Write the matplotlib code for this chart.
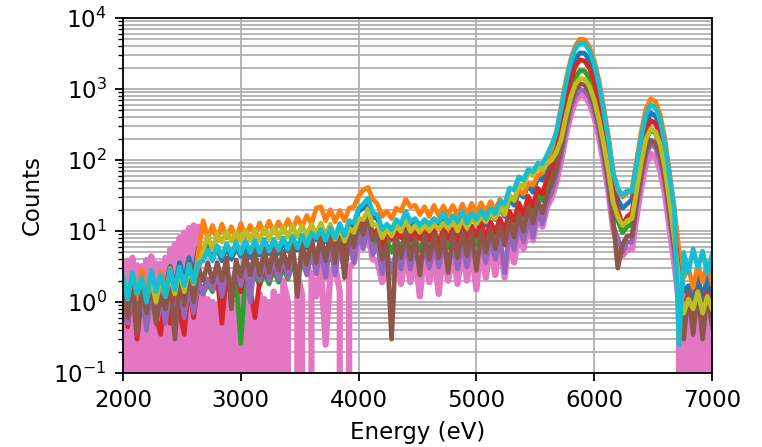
import numpy as np
import matplotlib
matplotlib.use("Agg")
import matplotlib.pyplot as plt

nan = np.nan

# channel energies (eV), 40 eV bins
energy = np.arange(2000, 7001, 40)

# counts per channel for each spectrum
pink_a = [3.6, 0, 4.2, 0, 3.2, 0, 4.4, 0, 3.5, 0,
          5.5, 0, 8.0, 0, 11.0, 0, 11.5, 0, 1.1, 0,
          0.9, 0, 1.2, 0, 1.0, 0, 1.3, 0, 0.9, 0,
          1.1, 0, 1.4, 0, 2.0, 1.0, 0, 2.4, 1.3, 0,
          2.6, 1.2, 3.2, 0.25, 2.4, 3.4, 1.4, 0, 3.0, 3.6,
          6.0, 6.5, 9.0, 4.0, 3.8, 1.9, 3.2, 2.2, 4.4, 1.8,
          5.2, 1.9, 4.6, 1.2, 6.0, 1.9, 4.8, 1.3, 5.6, 2.0,
          5.0, 1.8, 6.2, 2.0, 5.4, 1.5, 6.4, 2.2, 6.8, 2.4,
          7.0, 2.2, 8.0, 3.6, 9.0, 5.6, 11.5, 7.4, 16.0, 11.5,
          22, 30, 50, 100, 225, 430, 675, 835, 800, 630,
          410, 215, 92, 37, 11, 6.5, 4.5, 5.5, 5.5, 16,
          42, 88, 122, 112, 72, 34, 11, 3.5, 1.0, 0,
          1.5, 0, 1.3, 0, 1.6, 0]

pink_b = ([0, 3.8, 0, 3.3, 0, 3.9, 0, 3.5, 0, 4.2,
           0, 6.5, 0, 9.5, 0, 12.0, 0, 1.2, 0, 1.0,
           0, 1.1, 0, 0.9, 0, 1.2, 0, 1.0, 0, 1.3,
           0, 1.0, 0, 1.2, 0, 0, 0, 0]
          + [nan] * 81
          + [1.4, 0, 1.6, 0, 1.3, 0, 1.5])

blue = [1.8, 0.8, 2.0, 0.9, 1.7, 0.7, 2.1, 1.0, 1.9, 1.7,
        3.2, 1.6, 3.6, 2.0, 4.2, 2.5, 5.8, 5.2, 6.4, 4.4,
        5.6, 3.8, 6.0, 4.0, 5.8, 4.4, 6.2, 4.2, 6.4, 4.6,
        6.6, 4.8, 6.8, 4.8, 7.0, 5.2, 7.2, 5.4, 7.6, 5.8,
        10.0, 7.6, 11.0, 7.0, 11.0, 6.8, 11.5, 7.2, 12.5, 11.5,
        19.0, 21.0, 27.0, 15.5, 15.0, 8.8, 11.8, 9.0, 13.5, 11.0,
        17.0, 11.0, 13.5, 10.0, 13.0, 10.8, 13.5, 11.2, 14.0, 11.0,
        14.2, 10.0, 16.5, 12.0, 15.5, 12.5, 16.5, 12.0, 18.0, 14.5,
        21.0, 16.0, 28.0, 23.0, 36.0, 30.0, 45.0, 35.0, 56.0, 52.0,
        80, 110, 180, 380, 870, 1710, 2660, 3240, 3170, 2510,
        1620, 850, 362, 145, 48, 28, 21, 24, 28, 68,
        165, 340, 460, 420, 275, 128, 43, 14, 3.5, 1.4,
        1.7, 0.9, 2.3, 1.1, 2.2, 1.0]

orange = [2.2, 0.9, 2.6, 1.1, 2.9, 1.2, 2.3, 0.8, 2.7, 1.3,
          3.0, 1.1, 2.5, 1.4, 3.4, 1.6, 5.0, 14.0, 8.0, 12.0,
          7.5, 12.5, 8.0, 11.5, 7.6, 12.8, 8.4, 12.0, 8.8, 13.0,
          9.2, 13.8, 9.4, 13.5, 10.0, 14.5, 10.5, 15.5, 11.5, 16.5,
          12.5, 21.0, 22.0, 14.0, 20.0, 13.5, 19.5, 14.0, 21.0, 22.0,
          31.0, 38.0, 41.0, 28.0, 24.0, 16.0, 19.0, 15.0, 21.0, 19.0,
          28.0, 22.0, 23.0, 17.0, 22.0, 16.0, 23.0, 16.5, 22.5, 17.0,
          23.0, 16.5, 24.0, 17.0, 24.5, 17.5, 25.0, 18.5, 26.0, 19.5,
          28.0, 22.0, 32.0, 27.0, 38.0, 33.0, 47.0, 44.0, 60.0, 66.0,
          98, 145, 250, 570, 1340, 2600, 4070, 5060, 4950, 3920,
          2530, 1330, 565, 220, 70, 38, 30, 34, 38, 100,
          255, 530, 730, 670, 435, 200, 66, 21, 5.2, 2.2,
          3.0, 1.6, 3.4, 1.9, 3.6, 1.8]

green = [1.3, 0.6, 1.4, 0.5, 1.2, 0.45, 1.3, 0.55, 1.2, 0.6,
         1.3, 0.5, 1.4, 0.6, 1.5, 0.7, 1.7, 1.3, 1.8, 1.4,
         2.0, 1.2, 2.1, 1.4, 2.2, 0.26, 2.4, 1.6, 2.5, 1.7,
         2.6, 1.8, 2.9, 1.9, 3.1, 2.1, 3.4, 2.3, 3.6, 2.5,
         4.5, 3.0, 5.4, 3.0, 5.8, 3.2, 6.4, 3.5, 7.0, 5.2,
         10.0, 8.5, 13.0, 6.5, 8.0, 4.4, 7.5, 5.0, 7.8, 5.5,
         9.5, 5.6, 8.0, 5.2, 8.2, 5.6, 8.5, 5.8, 8.8, 5.8,
         9.0, 5.6, 9.4, 6.0, 9.5, 6.4, 9.8, 6.6, 10.5, 7.0,
         12.5, 9.0, 15.5, 11.5, 20.0, 15.0, 25.0, 19.0, 33.0, 27.0,
         42, 62, 100, 215, 490, 955, 1465, 1820, 1780, 1410,
         910, 480, 205, 82, 26, 14, 9.5, 11.5, 12.5, 36,
         90, 190, 263, 241, 157, 72, 24, 7.5, 1.8, 0.6,
         1.4, 0.5, 1.5, 0.6, 1.3, 0.5]

red = [1.2, 0.45, 1.5, 0.3, 1.3, 0.5, 1.6, 0.6, 0.35, 1.4,
       0.5, 1.5, 0.7, 0.35, 1.8, 0.6, 1.9, 1.5, 2.1, 1.6,
       2.2, 0.5, 2.6, 1.1, 3.0, 1.4, 3.3, 1.5, 0.6, 2.0,
       2.9, 2.1, 3.0, 2.3, 3.3, 2.4, 3.7, 2.6, 4.2, 3.2,
       5.8, 4.2, 7.8, 4.2, 9.0, 5.0, 10.0, 5.4, 11.0, 7.5,
       13.5, 12.0, 17.5, 9.0, 10.5, 5.6, 10.5, 7.6, 9.5, 8.0,
       13.5, 7.6, 10.0, 7.8, 10.2, 7.6, 10.5, 6.5, 11.0, 7.8,
       11.0, 6.8, 12.5, 7.2, 11.8, 8.6, 13.5, 7.8, 13.5, 9.6,
       15.0, 10.0, 19.0, 14.0, 25.0, 17.0, 31.0, 22.0, 40.0, 33.0,
       55, 80, 130, 295, 680, 1330, 2090, 2580, 2480, 1960,
       1265, 665, 283, 115, 36, 20, 12, 16, 18, 50,
       125, 265, 360, 330, 215, 100, 33, 10, 2.5, 0.7,
       1.3, 0.6, 1.5, 0.7, 1.4, 0.65]

purple = [1.3, 0.5, 1.4, 0.6, 1.3, 0.4, 1.5, 0.6, 1.3, 0.5,
          1.4, 0.6, 1.7, 0.6, 1.8, 0.7, 2.0, 1.3, 2.1, 1.5,
          2.6, 1.2, 2.9, 1.6, 3.3, 1.7, 3.6, 1.0, 3.8, 2.0,
          4.0, 2.0, 4.2, 2.1, 4.4, 2.2, 4.8, 2.3, 5.0, 2.4,
          5.4, 2.5, 5.6, 2.2, 6.2, 2.4, 6.4, 2.6, 6.8, 3.6,
          9.5, 5.6, 11.5, 4.6, 6.5, 2.5, 5.0, 2.6, 5.4, 2.9,
          6.8, 2.9, 5.8, 3.0, 5.8, 3.0, 6.0, 3.1, 6.2, 3.2,
          6.4, 2.9, 6.6, 3.1, 6.8, 3.4, 7.0, 3.6, 7.4, 4.0,
          8.0, 2.6, 10.0, 5.4, 12.5, 7.0, 15.0, 8.2, 20.0, 12.5,
          25, 35, 60, 120, 265, 515, 800, 990, 940, 745,
          480, 255, 108, 42, 12, 8.0, 5.0, 7.0, 7.0, 22,
          55, 120, 165, 150, 98, 46, 15, 5.0, 1.5, 0.5,
          1.2, 0.45, 1.3, 0.5, 1.2, 0.45]

brown = [1.8, 0.6, 2.2, 0.35, 1.6, 0.7, 2.0, 0.5, 1.2, 0.8,
         2.2, 0.3, 1.9, 0.9, 2.6, 1.0, 3.0, 2.0, 3.6, 1.9,
         3.6, 2.0, 4.2, 0.8, 3.9, 2.3, 4.6, 2.4, 5.0, 2.4,
         5.5, 2.6, 6.0, 2.8, 5.2, 3.0, 6.8, 1.2, 7.0, 3.4,
         7.8, 3.6, 8.5, 3.8, 9.0, 3.6, 9.5, 2.2, 10.0, 6.0,
         13.5, 9.0, 16.0, 7.5, 9.5, 4.0, 6.5, 0.3, 7.5, 4.2,
         9.5, 4.0, 8.0, 2.4, 8.6, 4.0, 8.8, 4.2, 9.0, 2.6,
         9.2, 4.2, 9.6, 4.5, 9.8, 2.8, 10.0, 5.0, 10.5, 5.6,
         11.5, 6.4, 14.0, 8.2, 17.0, 10.0, 21.0, 13.0, 27.0, 18.0,
         32, 45, 75, 148, 325, 625, 975, 1190, 1140, 900,
         580, 305, 130, 52, 15, 3.0, 6.5, 8.5, 8.5, 26,
         65, 140, 190, 175, 115, 55, 18, 6.0, 1.8, 0.3,
         1.4, 0.35, 1.5, 0.3, 1.3, 0.5]

olive = [2.4, 1.2, 2.6, 1.3, 2.2, 1.1, 2.1, 1.0, 2.2, 1.2,
         2.4, 1.3, 2.8, 1.4, 3.0, 1.8, 3.6, 5.2, 8.6, 5.4,
         9.2, 7.0, 9.8, 7.2, 9.6, 7.4, 10.2, 7.5, 10.5, 7.6,
         10.8, 7.8, 11.0, 8.0, 11.5, 8.2, 11.8, 8.4, 12.0, 8.6,
         12.5, 9.0, 13.0, 8.6, 12.5, 7.6, 11.0, 7.2, 11.0, 9.5,
         15.0, 14.5, 20.0, 12.0, 12.5, 8.0, 10.5, 8.5, 12.0, 9.8,
         14.5, 9.8, 12.0, 9.6, 12.0, 10.0, 12.5, 10.5, 13.0, 10.8,
         13.5, 10.0, 15.0, 11.0, 15.0, 12.5, 16.0, 13.5, 18.0, 15.0,
         22.0, 17.0, 31.0, 27.0, 46.0, 42.0, 68.0, 60.0, 78.0, 72.0,
         90, 100, 130, 197, 405, 755, 1170, 1410, 1380, 1090,
         705, 375, 170, 72, 26, 16, 12, 14, 15, 37,
         95, 200, 275, 250, 165, 78, 26, 8.0, 2.0, 0.7,
         1.1, 0.8, 1.4, 0.7, 1.2, 0.8]

cyan = [2.3, 1.1, 2.6, 1.3, 2.2, 1.0, 2.8, 1.4, 2.4, 1.2,
        2.8, 1.5, 3.1, 1.7, 3.3, 1.9, 3.5, 3.8, 5.4, 3.8,
        6.2, 4.4, 6.6, 4.6, 7.0, 4.8, 7.2, 5.0, 7.4, 5.0,
        7.6, 5.2, 7.6, 5.4, 8.0, 5.6, 8.4, 5.8, 8.8, 6.2,
        9.4, 8.0, 10.5, 7.4, 11.0, 8.0, 12.8, 8.6, 14.0, 13.0,
        21.0, 24.0, 29.0, 18.0, 17.0, 10.5, 12.5, 10.5, 14.5, 12.5,
        19.0, 13.5, 15.0, 12.0, 14.5, 12.5, 15.0, 13.5, 18.0, 13.0,
        16.5, 13.5, 19.0, 13.0, 18.0, 14.5, 19.5, 15.0, 21.0, 17.5,
        26.0, 24.0, 40.0, 38.0, 58.0, 52.0, 74.0, 68.0, 90.0, 88.0,
        118, 165, 250, 535, 1210, 2350, 3700, 4450, 4360, 3450,
        2230, 1170, 500, 195, 66, 40, 32, 37, 36, 88,
        215, 440, 600, 550, 360, 170, 58, 20, 0.25, 5.0,
        2.6, 5.6, 3.0, 5.2, 2.5, 4.6]

traces = [pink_a, pink_b, blue, orange, green, red, purple, brown, olive, cyan]
colors = ["C6", "C6", "C0", "C1", "C2", "C3", "C4", "C5", "C8", "C9"]
widths = [4.5, 4.5, 3.4, 3.4, 3.4, 3.4, 3.4, 3.4, 3.4, 3.4]

# default style scaled up by ~1.65
plt.rcParams.update({
    "font.size": 16.5,
    "axes.linewidth": 1.3,
    "xtick.major.size": 5.8, "ytick.major.size": 5.8,
    "xtick.major.width": 1.3, "ytick.major.width": 1.3,
    "ytick.minor.size": 3.3, "ytick.minor.width": 1.0,
    "xtick.major.pad": 5.8, "ytick.major.pad": 5.8,
    "axes.labelpad": 6.6,
})

fig = plt.figure(figsize=(7.62, 4.47), dpi=100)
ax = fig.add_axes([0.1614, 0.1655, 0.773, 0.7942])
for counts, c, w in zip(traces, colors, widths):
    ax.plot(energy, counts, color=c, lw=w)

ax.set_yscale("log")
ax.set_xlim(2000, 7000)
ax.set_ylim(0.1, 1e4)
ax.set_xlabel("Energy (eV)")
ax.set_ylabel("Counts")
ax.grid(True, which="both", color="#b0b0b0", lw=1.3)

fig.savefig("out.png", dpi=100)
